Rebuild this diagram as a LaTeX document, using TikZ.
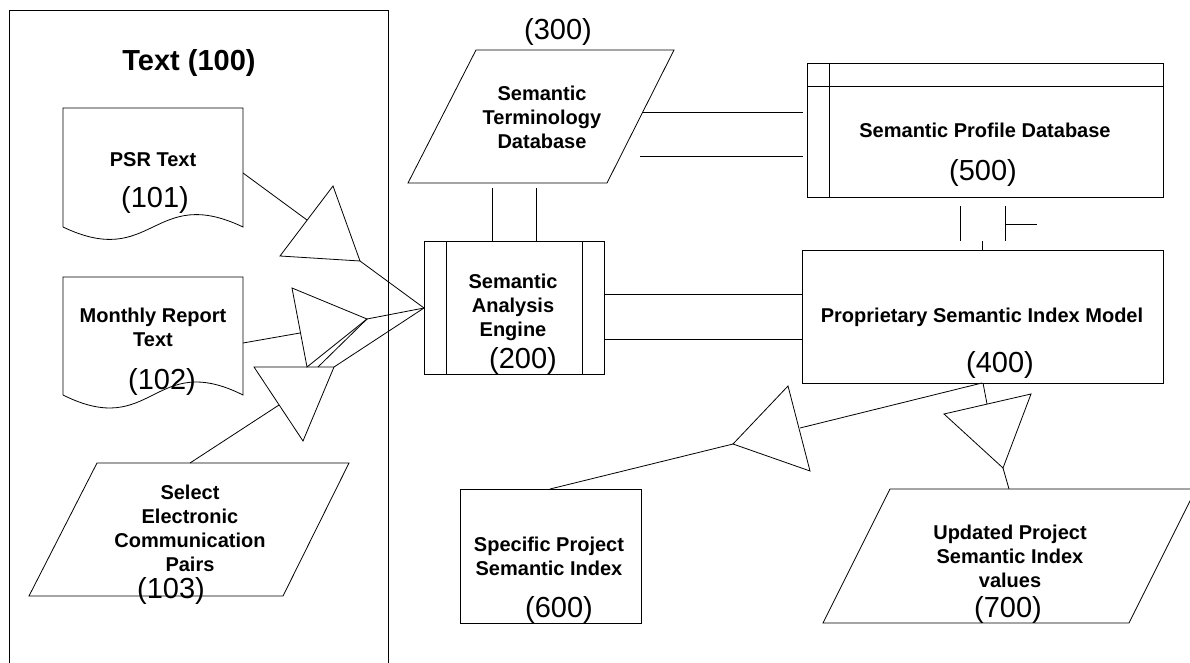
\documentclass[tikz,border=0pt]{standalone}
\usepackage{fontspec}
\setmainfont{Liberation Sans}
\begin{document}
\begin{tikzpicture}[x=1pt,y=-1pt,line width=0.8pt,line join=miter,
  lbl/.style={font=\fontsize{20}{24}\selectfont\bfseries,align=center,inner sep=0},
  num/.style={font=\fontsize{29}{34}\selectfont,inner sep=0},
  shp/.style={draw=black}]
\useasboundingbox (0,0) rectangle (1190,663);
\clip (0,0) rectangle (1190,663);

% ---------- Text (100) container ----------
\draw[shp] (9.5,700) -- (9.5,10) -- (388,10) -- (388,700);
\node[font=\fontsize{29}{34}\selectfont\bfseries,inner sep=0] (t100) at (189,63) {Text (100)};

% ---------- PSR Text document ----------
\draw[shp] (63,227) -- (63,108) -- (243,108) -- (243,227)
  .. controls (153,184) and (153,270) .. (63,227);
\node[lbl] (psr) at (153,160) {PSR Text};
\node[num] (n101) at (155,200) {(101)};

% ---------- Monthly report document ----------
\draw[shp] (63,395) -- (63,277) -- (243,277) -- (243,395)
  .. controls (153,350) and (153,440) .. (63,395);
\node[lbl] (mrt) at (153,327.5) {Monthly Report\\Text};
\node[num] (n102) at (162,382) {(102)};

% ---------- Select electronic communication pairs ----------
\draw[shp] (97,463) -- (349,463) -- (283,596) -- (29,596) -- cycle;
\node[lbl] (sec) at (190,528.5) {Select\\Electronic\\Communication\\Pairs};
\node[num] (n103) at (171,591) {(103)};

% ---------- merge triangles (left) ----------
\coordinate (t1a) at (333,186); \coordinate (t1b) at (280,256); \coordinate (t1c) at (360,261);
\draw[shp] (t1a) -- (t1b) -- (t1c) -- cycle;
\coordinate (t2a) at (292,288); \coordinate (t2b) at (367,319); \coordinate (t2c) at (307,367);
\draw[shp] (t2a) -- (t2b) -- (t2c) -- cycle;
\coordinate (t3a) at (254,367); \coordinate (t3b) at (334,367); \coordinate (t3c) at (303,441);
\draw[shp] (t3a) -- (t3b) -- (t3c) -- cycle;

% ---------- Semantic Analysis Engine ----------
\draw[shp] (424,241) rectangle (604,374);
\draw[shp] (446,241) -- (446,374);
\draw[shp] (582,241) -- (582,374);
\node[lbl] (sae) at (513,307) {Semantic\\Analysis\\Engine};
\node[num] (n200) at (523,361) {(200)};
\coordinate (saein) at (424,308);

% connectors into engine
\coordinate (psrout) at (243,173); \coordinate (t1in) at (307,220);
\coordinate (mrtout) at (243,343); \coordinate (t2in) at (300,333);
\coordinate (t3top) at (318,367);
\coordinate (secout) at (190,463); \coordinate (t3in) at (279,405);
\draw[shp] (psrout) -- (t1in);
\draw[shp] (t1c) -- (saein);
\draw[shp] (mrtout) -- (t2in);
\draw[shp] (t2b) -- (saein);
\draw[shp] (t3top) -- (t2b);
\draw[shp] (t3b) -- (saein);
\draw[shp] (secout) -- (t3in);

% ---------- Semantic Terminology Database ----------
\draw[shp] (476,50) -- (674,50) -- (607,183) -- (408,183) -- cycle;
\node[lbl] (std) at (542,117) {Semantic\\Terminology\\Database};
\node[num] (n300) at (558,32) {(300)};
\coordinate (std1) at (492,188); \coordinate (sae1) at (492,241);
\coordinate (std2) at (536,188); \coordinate (sae2) at (536,241);
\draw[shp] (std1) -- (sae1);
\draw[shp] (std2) -- (sae2);

% ---------- Semantic Profile Database ----------
\draw[shp] (807,63) rectangle (1163,197);
\draw[shp] (807,86) -- (1163,86);
\draw[shp] (829,63) -- (829,197);
\node[lbl] (spd) at (985,130) {Semantic Profile Database};
\node[num] (n500) at (983,173) {(500)};
\coordinate (stdr1) at (642,112); \coordinate (spdl1) at (803,112);
\coordinate (stdr2) at (640,156); \coordinate (spdl2) at (803,156);
\draw[shp] (stdr1) -- (spdl1);
\draw[shp] (stdr2) -- (spdl2);

% ---------- Proprietary Semantic Index Model ----------
\draw[shp] (802,250) rectangle (1163,383);
\node[lbl] (psim) at (982,317) {Proprietary Semantic Index Model};
\node[num] (n400) at (1000,365) {(400)};
\coordinate (saer1) at (604,294); \coordinate (psiml1) at (802,294);
\coordinate (saer2) at (604,339); \coordinate (psiml2) at (802,339);
\draw[shp] (saer1) -- (psiml1);
\draw[shp] (saer2) -- (psiml2);

% connector fragments between 500 and 400
\coordinate (a1) at (960,206); \coordinate (a2) at (960,241);
\coordinate (b1) at (1005,206); \coordinate (b2) at (1005,241);
\coordinate (b3) at (1005,224); \coordinate (b4) at (1037,224);
\coordinate (c1) at (982,241); \coordinate (c2) at (982,250);
\draw[shp] (a1) -- (a2);
\draw[shp] (b1) -- (b2);
\draw[shp] (b3) -- (b4);
\draw[shp] (c1) -- (c2);

% ---------- lower triangles ----------
\coordinate (t4a) at (788,386); \coordinate (t4b) at (733,444); \coordinate (t4c) at (810,471);
\draw[shp] (t4a) -- (t4b) -- (t4c) -- cycle;
\coordinate (t5a) at (944,414); \coordinate (t5b) at (1031,394); \coordinate (t5c) at (1003,468);
\draw[shp] (t5a) -- (t5b) -- (t5c) -- cycle;

% ---------- Specific Project Semantic Index ----------
\draw[shp] (460,489) rectangle (641,623);
\node[lbl] (spsi) at (549,556) {Specific Project\\Semantic Index};
\node[num] (n600) at (559,610) {(600)};

% ---------- Updated Project Semantic Index values ----------
\draw[shp] (890,489) -- (1196,489) -- (1129,623) -- (823,623) -- cycle;
\node[lbl] (upsi) at (1010,556) {Updated Project\\Semantic Index\\values};
\node[num] (n700) at (1008,610) {(700)};

% connectors out of 400
\coordinate (t4in) at (800,428); \coordinate (psimb1) at (982,383);
\coordinate (spsitop) at (550,489);
\coordinate (psimb2) at (983,383); \coordinate (t5in) at (987,404);
\coordinate (upsitop) at (1009,489);
\draw[shp] (t4in) -- (psimb1);
\draw[shp] (t4b) -- (spsitop);
\draw[shp] (psimb2) -- (t5in);
\draw[shp] (t5c) -- (upsitop);
\end{tikzpicture}
\end{document}
